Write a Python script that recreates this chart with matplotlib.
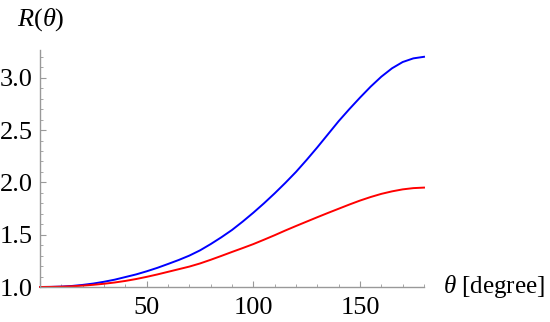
import numpy as np
import matplotlib.pyplot as plt
from matplotlib.ticker import MultipleLocator

plt.rcParams["font.family"] = "Liberation Serif"
plt.rcParams["mathtext.fontset"] = "custom"
plt.rcParams["mathtext.rm"] = "Liberation Serif"
plt.rcParams["mathtext.it"] = "Liberation Serif:italic"

# angle in degrees and R(theta) (every 5 degrees)
theta = list(range(0, 181, 5))
r_blue = [1.0, 1.001, 1.004, 1.01, 1.02, 1.033, 1.05, 1.07, 1.095, 1.12,
          1.15, 1.183, 1.22, 1.258, 1.30, 1.35, 1.41, 1.475, 1.545, 1.625,
          1.71, 1.80, 1.895, 1.995, 2.10, 2.215, 2.335, 2.46, 2.585, 2.70,
          2.81, 2.915, 3.01, 3.09, 3.15, 3.185, 3.20]
r_red = [1.0, 1.001, 1.003, 1.007, 1.013, 1.021, 1.031, 1.043, 1.058, 1.076,
         1.097, 1.12, 1.145, 1.17, 1.195, 1.225, 1.26, 1.297, 1.335, 1.372,
         1.41, 1.452, 1.495, 1.54, 1.583, 1.625, 1.667, 1.708, 1.748, 1.788,
         1.826, 1.86, 1.89, 1.914, 1.933, 1.945, 1.95]

fig = plt.figure(figsize=(5.5, 3.22), dpi=100)
ax = fig.add_axes([40 / 550, 1 - 287 / 322, 384 / 550, 237 / 322])

ax.plot(theta, r_blue, color="#0000ff", lw=1.4, clip_on=False)
ax.plot(theta, r_red, color="#ff0000", lw=1.4, clip_on=False)

ax.set_xlim(0, 180)
ax.set_ylim(1.0, 3.265)

for s in ["top", "right"]:
    ax.spines[s].set_visible(False)
for s in ["left", "bottom"]:
    ax.spines[s].set_color("#999999")
    ax.spines[s].set_linewidth(1.0)

ax.xaxis.set_major_locator(MultipleLocator(50))
ax.xaxis.set_minor_locator(MultipleLocator(10))
ax.yaxis.set_major_locator(MultipleLocator(0.5))
ax.yaxis.set_minor_locator(MultipleLocator(0.1))
ax.xaxis.set_major_formatter(lambda v, p: "" if v == 0 else f"{v:.0f}")
ax.yaxis.set_major_formatter(lambda v, p: f"{v:.1f}")

ax.tick_params(which="both", direction="in", color="#999999",
               labelsize=19, labelcolor="black")
ax.tick_params(which="major", length=4.5, width=0.8)
ax.tick_params(axis="y", which="major", pad=5)
ax.tick_params(axis="x", which="major", pad=7)
ax.tick_params(which="minor", length=2.2, width=0.6)

ax.text(-0.06, 1.127, r"$R(\theta)$", transform=ax.transAxes,
        fontsize=19, ha="left", va="center")
ax.text(1.05, 0.0, r"$\theta$ [degree]", transform=ax.transAxes,
        fontsize=18, ha="left", va="center")

fig.savefig("out.png", dpi=100)
